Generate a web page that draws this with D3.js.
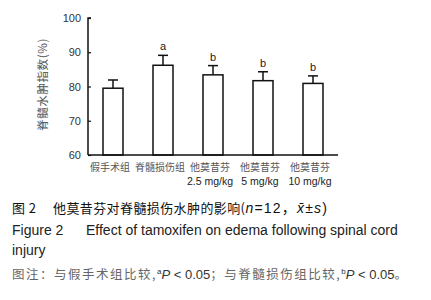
<!DOCTYPE html>
<html>
<head>
<meta charset="utf-8">
<script src="https://cdn.jsdelivr.net/npm/d3@7"></script>
<style>
  body { margin: 0; background: #fff; }
  svg { display: block; }
</style>
</head>
<body>
<div id="chart"></div>
<script>
// groups, means and SDs
const groupLines = [["假手术组"], ["脊髓损伤组"], ["他莫昔芬", "2.5 mg/kg"], ["他莫昔芬", "5 mg/kg"], ["他莫昔芬", "10 mg/kg"]];
const means = [79.5, 86.2, 83.4, 81.7, 80.9];
const sds = [2.4, 2.9, 2.7, 2.6, 2.2];
const marks = ["", "a", "b", "b", "b"];
const yTicks = [60, 70, 80, 90, 100];

const W = 431, H = 300;
const margin = {top: 18, left: 88, right: 93, bottom: 145};
const plotW = W - margin.left - margin.right;
const plotH = H - margin.top - margin.bottom;
const LAT = '"Liberation Sans", Arial, sans-serif';
const CJK = '"Noto Sans CJK SC", sans-serif';

const svg = d3.select('#chart').append('svg').attr('width', W).attr('height', H);
const g = svg.append('g').attr('transform', 'translate(' + margin.left + ',' + margin.top + ')');

const x = d3.scaleBand().domain(d3.range(means.length)).range([0, plotW]).paddingInner(0.6).paddingOuter(0.3);
const y = d3.scaleLinear().domain([60, 100]).range([plotH, 0]);

// bars
g.selectAll('.bar').data(means).enter().append('rect')
    .attr('x', (d, i) => x(i))
    .attr('y', d => y(d))
    .attr('width', x.bandwidth())
    .attr('height', d => plotH - y(d))
    .attr('fill', '#fff')
    .attr('stroke', '#111')
    .attr('stroke-width', 1.5);

// error bars (upper only)
const eb = g.selectAll('.err').data(means).enter().append('g');
eb.append('line')
    .attr('x1', (d, i) => x(i) + x.bandwidth() / 2)
    .attr('x2', (d, i) => x(i) + x.bandwidth() / 2)
    .attr('y1', d => y(d))
    .attr('y2', (d, i) => y(d + sds[i]))
    .attr('stroke', '#111').attr('stroke-width', 1.5);
eb.append('line')
    .attr('x1', (d, i) => x(i) + x.bandwidth() / 2 - 5)
    .attr('x2', (d, i) => x(i) + x.bandwidth() / 2 + 5)
    .attr('y1', (d, i) => y(d + sds[i]))
    .attr('y2', (d, i) => y(d + sds[i]))
    .attr('stroke', '#111').attr('stroke-width', 1.5);

// significance letters
g.selectAll('.mark').data(means).enter().append('text')
    .attr('x', (d, i) => x(i) + x.bandwidth() / 2)
    .attr('y', (d, i) => y(d + sds[i]) - 5)
    .attr('text-anchor', 'middle')
    .style('font', '11px ' + LAT)
    .style('fill', '#222')
    .text((d, i) => marks[i]);

// y axis, ticks pointing inward
const yAxis = g.append('g').call(d3.axisLeft(y).tickValues(yTicks).tickSize(-3).tickPadding(7));
yAxis.select('.domain').attr('d', 'M0,' + plotH + 'V0H3').attr('stroke', '#111').attr('stroke-width', 1.5);
yAxis.selectAll('.tick line').attr('stroke', '#111').attr('stroke-width', 1.2);
yAxis.selectAll('.tick text').style('font', '11px ' + LAT).style('fill', '#333');

// x axis line
g.append('line').attr('x1', 0).attr('x2', plotW).attr('y1', plotH).attr('y2', plotH)
    .attr('stroke', '#111').attr('stroke-width', 1.5);

// x labels
const xl = g.selectAll('.xl').data(groupLines).enter().append('text')
    .attr('text-anchor', 'middle')
    .attr('transform', (d, i) => 'translate(' + (x(i) + x.bandwidth() / 2 - 3) + ',' + (plotH + 16) + ')');
xl.selectAll('tspan').data(d => d).enter().append('tspan')
    .attr('x', 0)
    .attr('dy', (d, j) => j === 0 ? 0 : 14)
    .style('font', (d, j) => j === 0 ? '10px ' + CJK : '10.5px ' + LAT)
    .style('fill', (d, j) => j === 0 ? '#555' : '#222')
    .text(d => d);

// y title
svg.append('text')
    .attr('transform', 'translate(47,' + (margin.top + plotH / 2 - 2) + ') rotate(-90)')
    .attr('text-anchor', 'middle')
    .style('font', '11.5px ' + CJK)
    .style('letter-spacing', '0.6px')
    .style('fill', '#555')
    .text('脊髓水肿指数(%)');

// caption
const cap1 = svg.append('text').attr('x', 12).attr('y', 213)
    .style('font', '13px ' + CJK).style('fill', '#111').style('letter-spacing', '0.4px');
cap1.append('tspan').text('图 2');
cap1.append('tspan').attr('x', 53).text('他莫昔芬对脊髓损伤水肿的影响(');
const latin1 = [['n', true], ['=12', false], ['，', false], ['x̄', true], ['±', false], ['s', true], [')', false]];
latin1.forEach(p => {
  cap1.append('tspan')
      .style('font-family', p[0] === '，' ? CJK : LAT)
      .style('font-size', '14px')
      .style('font-style', p[1] ? 'italic' : 'normal')
      .style('letter-spacing', '1.2px')
      .text(p[0]);
});

const cap2 = svg.append('text').attr('y', 235)
    .style('font', '14px ' + LAT).style('fill', '#222');
cap2.append('tspan').attr('x', 12).text('Figure 2');
cap2.append('tspan').attr('x', 86).text('Effect of tamoxifen on edema following spinal cord');
svg.append('text').attr('x', 12).attr('y', 255)
    .style('font', '14px ' + LAT).style('fill', '#222')
    .text('injury');

const cap3 = svg.append('text').attr('x', 12).attr('y', 279)
    .style('font', '12.5px ' + CJK).style('fill', '#666');
const parts3 = [
  ['图注：与假手术组比较,', 'cjk'], ['a', 'sup'], ['P', 'it'], [' < 0.05', 'lat'],
  ['；与脊髓损伤组比较,', 'cjk'], ['b', 'sup'], ['P', 'it'], [' < 0.05', 'lat'], ['。', 'cjk']
];
let prevSup = false;
parts3.forEach(p => {
  const t = cap3.append('tspan').text(p[0]);
  if (p[1] === 'cjk') t.style('letter-spacing', '1.5px');
  if (p[1] === 'sup') t.attr('dy', -5).style('font', '8px ' + LAT).style('fill', '#333');
  if (p[1] === 'it' || p[1] === 'lat') t.style('font-family', LAT).style('font-size', '13px').style('fill', '#333');
  if (p[1] === 'it') t.style('font-style', 'italic');
  if (prevSup) t.attr('dy', 5);
  prevSup = p[1] === 'sup';
});
</script>
</body>
</html>
